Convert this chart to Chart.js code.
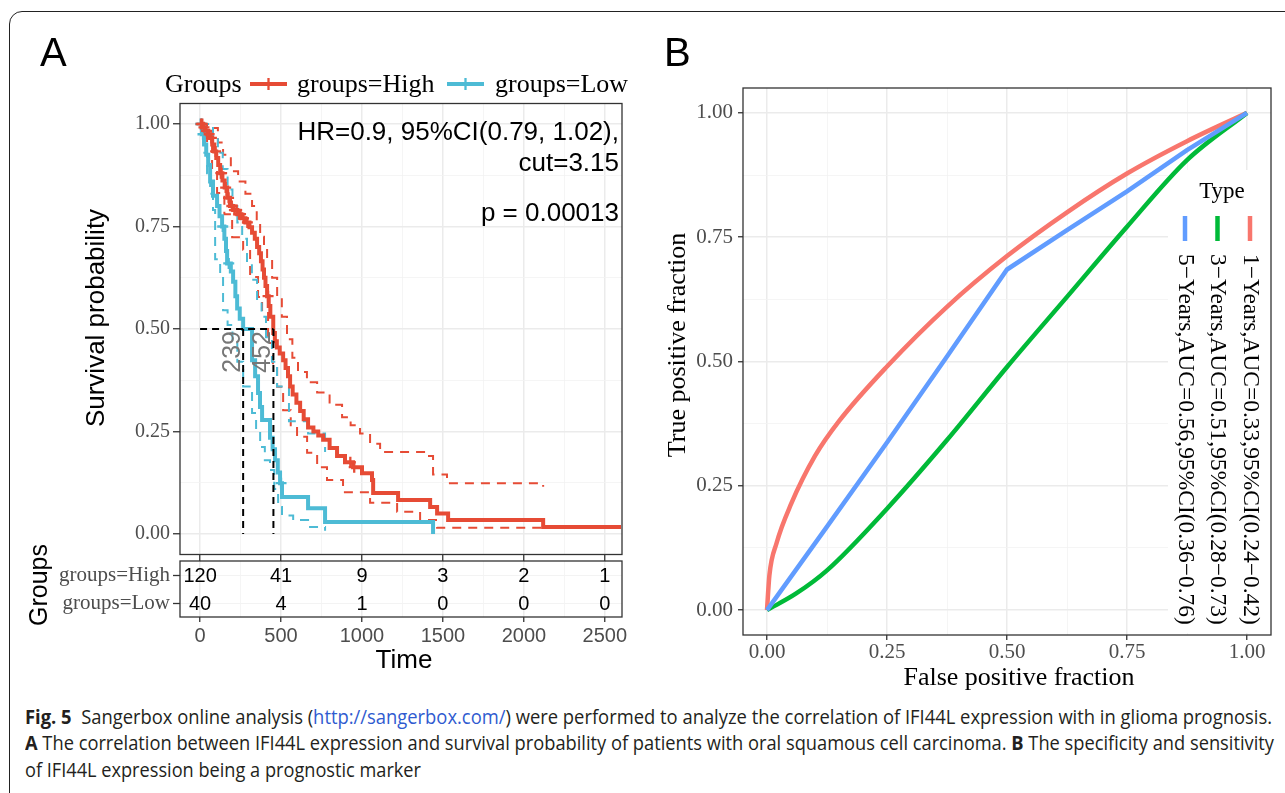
<!DOCTYPE html>
<html>
<head>
<meta charset="utf-8">
<script src="https://cdn.jsdelivr.net/npm/chart.js@4.4.1/dist/chart.umd.min.js"></script>
<style>
  body { margin: 0; width: 1285px; height: 793px; background: #fff; overflow: hidden; position: relative; }
  .frame { position: absolute; left: 9px; top: 11px; width: 1320px; height: 820px; border: 1.4px solid #222; border-radius: 13px; box-sizing: border-box; }
  canvas { position: absolute; }
  #kmChart { left: 0; top: 0; }
  #riskChart { left: 0; top: 530px; }
  #rocChart { left: 640px; top: 0; }
  .cap { position: absolute; left: 25px; white-space: nowrap; font-family: "Open Sans", "Liberation Sans", sans-serif; font-size: 20px; line-height: 26px; color: #231f20; transform-origin: 0 50%; }
  .cap b { font-weight: 700; }
  .cap .lnk { color: #2f5bd0; }
</style>
</head>
<body>
<div class="frame"></div>
<canvas id="kmChart" width="640" height="570"></canvas>
<canvas id="riskChart" width="640" height="150"></canvas>
<canvas id="rocChart" width="645" height="700"></canvas>
<div class="cap" data-w="1247" style="top:704px"><b>Fig. 5</b>&nbsp; Sangerbox online analysis (<span class="lnk">http://sangerbox.com/</span>) were performed to analyze the correlation of IFI44L expression with in glioma prognosis.</div>
<div class="cap" data-w="1249" style="top:730px"><b>A</b> The correlation between IFI44L expression and survival probability of patients with oral squamous cell carcinoma. <b>B</b> The specificity and sensitivity</div>
<div class="cap" data-w="396" style="top:757px">of IFI44L expression being a prognostic marker</div>
<script>
// ---- panel A: Kaplan-Meier ----
const kmTimeTicks = [0, 500, 1000, 1500, 2000, 2500];
const kmTimeMinor = [250, 750, 1250, 1750, 2250];
const kmSurvTicks = [0, 0.25, 0.5, 0.75, 1];
const kmSurvMinor = [0.125, 0.375, 0.625, 0.875];

const highTime = [0, 15, 30, 48, 62, 75, 88, 100, 112, 124, 138, 152, 168, 185, 205, 230, 255, 280, 305, 321,
  338, 352, 365, 376, 386, 395, 404, 414, 424, 434, 452, 462, 474, 492, 513, 528, 543, 556, 572, 595,
  618, 640, 667, 700, 730, 760, 800, 846, 895, 945, 1000, 1062, 1069, 1223, 1421, 1464, 1532, 2119, 2600];
const highSurv = [1, 0.992, 0.983, 0.975, 0.966, 0.95, 0.933, 0.917, 0.9, 0.88, 0.862, 0.845, 0.82, 0.8, 0.79, 0.78, 0.77, 0.76, 0.748, 0.735,
  0.72, 0.70, 0.685, 0.665, 0.645, 0.625, 0.605, 0.58, 0.556, 0.53, 0.49, 0.47, 0.455, 0.44, 0.424, 0.405, 0.385, 0.36, 0.34, 0.32,
  0.30, 0.28, 0.26, 0.25, 0.24, 0.23, 0.21, 0.19, 0.175, 0.163, 0.148, 0.132, 0.10, 0.083, 0.066, 0.05, 0.034, 0.017, 0.017];
const highUpperTime = [0, 80, 110, 142, 190, 235, 280, 321, 350, 371, 395, 414, 445, 476, 505, 537, 570, 605, 660, 723,
  800, 877, 930, 988, 1050, 1112, 1401, 1439, 1525, 2119];
const highUpper = [1, 0.99, 0.955, 0.925, 0.885, 0.86, 0.83, 0.80, 0.76, 0.725, 0.70, 0.67, 0.625, 0.58, 0.53, 0.475, 0.43, 0.395, 0.37, 0.345,
  0.315, 0.285, 0.265, 0.245, 0.22, 0.2, 0.19, 0.145, 0.124, 0.115];
const highLowerTime = [0, 43, 74, 105, 150, 198, 266, 309, 358, 383, 420, 450, 476, 513, 560, 599, 661, 723, 784, 883,
  1050, 1217, 1359, 1464, 2119];
const highLower = [1, 0.954, 0.888, 0.832, 0.78, 0.724, 0.693, 0.627, 0.578, 0.539, 0.466, 0.41, 0.359, 0.302, 0.265, 0.237, 0.198, 0.163, 0.132, 0.102,
  0.076, 0.054, 0.034, 0.015, 0.005];

const lowTime = [0, 12, 25, 38, 50, 62, 80, 105, 120, 136, 150, 160, 167, 190, 204, 218, 229, 245, 266, 321,
  340, 358, 370, 383, 432, 448, 463, 480, 494, 506, 667, 772, 1439];
const lowSurv = [1, 0.975, 0.95, 0.925, 0.9, 0.86, 0.825, 0.80, 0.775, 0.75, 0.72, 0.69, 0.66, 0.64, 0.615, 0.58, 0.55, 0.525, 0.5, 0.424,
  0.385, 0.344, 0.31, 0.278, 0.235, 0.207, 0.18, 0.15, 0.124, 0.09, 0.063, 0.029, 0];
const lowUpperTime = [0, 50, 80, 110, 140, 170, 200, 230, 260, 290, 320, 352, 380, 407, 444, 475, 549, 667, 772];
const lowUpper = [1, 1, 0.97, 0.93, 0.89, 0.84, 0.8, 0.76, 0.72, 0.66, 0.62, 0.57, 0.53, 0.48, 0.42, 0.36, 0.275, 0.245, 0.2];
const lowLowerTime = [0, 20, 43, 62, 80, 93, 124, 142, 170, 200, 230, 266, 321, 346, 371, 400, 432, 458, 482, 506, 575, 667, 772];
const lowLower = [1, 0.93, 0.88, 0.83, 0.79, 0.67, 0.627, 0.546, 0.51, 0.47, 0.42, 0.36, 0.295, 0.25, 0.212, 0.18, 0.156, 0.11, 0.066, 0.045, 0.034, 0.017, 0.008];

const highCensorTime = [6, 14, 24, 40, 56, 70, 96, 128, 133, 158, 176, 196, 212, 226, 240, 250, 268, 292, 420, 928, 952];
const lowCensorTime = [4, 10, 18, 140, 177, 500];

const medianLineTimes = [266, 453];
const medianLabels = ['239', '452'];

const riskGroups = ['groups=High', 'groups=Low'];
const riskHigh = [120, 41, 9, 3, 2, 1];
const riskLow = [40, 4, 1, 0, 0, 0];

// ---- panel B: ROC ----
const rocTicks = [0, 0.25, 0.5, 0.75, 1];
const rocMinor = [0.125, 0.375, 0.625, 0.875];
const rocLabels = ['1\u2212Years,AUC=0.33,95%CI(0.24\u22120.42)', '3\u2212Years,AUC=0.51,95%CI(0.28\u22120.73)', '5\u2212Years,AUC=0.56,95%CI(0.36\u22120.76)'];
const roc1X = [0, 0.005, 0.02, 0.05, 0.1, 0.15, 0.25, 0.375, 0.5, 0.625, 0.75, 0.875, 1];
const roc1Y = [0, 0.07, 0.135, 0.213, 0.31, 0.38, 0.49, 0.61, 0.712, 0.80, 0.878, 0.943, 1];
const roc3X = [0, 0.06, 0.125, 0.25, 0.375, 0.5, 0.625, 0.75, 0.875, 1];
const roc3Y = [0, 0.033, 0.08, 0.204, 0.342, 0.489, 0.63, 0.771, 0.905, 1];
const roc5X = [0, 0.125, 0.25, 0.375, 0.5, 0.625, 0.75, 0.875, 1];
const roc5Y = [0, 0.168, 0.337, 0.51, 0.685, 0.764, 0.842, 0.925, 1];

const RED = '#E64B35', BLUE = '#4DBBD5';
const rocColors = ['#F8766D', '#00BA38', '#619CFF'];
const SERIF = '"Liberation Serif", "Times New Roman", serif';
const SANS = '"Liberation Sans", Arial, sans-serif';

Chart.defaults.font.family = SANS;

const pts = (xs, ys) => xs.map((x, i) => ({ x, y: ys[i] }));

function survAt(times, surv, t) {
  let s = surv[0];
  for (let i = 0; i < times.length; i++) if (times[i] <= t) s = surv[i];
  return s;
}

// theme_bw style axis: major + minor grid, dark ticks only on majors
function bwAxis(pos, min, max, major, minor, size, tickLength, padding, font, fmt) {
  const isMajor = v => major.includes(v);
  return {
    type: 'linear', position: pos, min, max,
    afterBuildTicks: s => { s.ticks = major.concat(minor).sort((a, b) => a - b).map(v => ({ value: v })); },
    afterFit: s => { if (pos === 'left') s.width = size; else s.height = size; },
    ticks: { autoSkip: false, maxRotation: 0, padding, font, color: '#4D4D4D',
      callback: v => (fmt && isMajor(v)) ? fmt(v) : '' },
    grid: {
      color: c => isMajor(c.tick.value) ? '#EBEBEB' : '#F3F3F3',
      lineWidth: c => isMajor(c.tick.value) ? 1.5 : 0.8,
      tickColor: c => isMajor(c.tick.value) ? '#333333' : 'rgba(0,0,0,0)',
      tickWidth: 1.3, tickLength,
    },
    border: { display: false },
  };
}

const stepLine = (xs, ys, color, width, dash, order) => ({
  data: pts(xs, ys), borderColor: color, borderWidth: width, borderDash: dash,
  stepped: true, pointRadius: 0, fill: false, order,
});
const guide = (xs, ys) => ({
  data: pts(xs, ys), borderColor: '#000', borderWidth: 2, borderDash: [7, 5], pointRadius: 0, fill: false, order: 0,
});
const censor = (times, curveT, curveS, color) => ({
  type: 'scatter', data: times.map(t => ({ x: t, y: survAt(curveT, curveS, t) })),
  pointStyle: 'cross', pointRadius: 5.5, pointBorderWidth: 2.3, borderColor: color, showLine: false, order: 1,
});

function text(ctx, str, x, y, font, color, align, base, rot) {
  ctx.save();
  ctx.translate(x, y);
  if (rot) ctx.rotate(rot);
  ctx.font = font; ctx.fillStyle = color;
  ctx.textAlign = align; ctx.textBaseline = base;
  ctx.fillText(str, 0, 0);
  ctx.restore();
}

const kmDecor = {
  id: 'kmDecor',
  afterDraw(chart) {
    const { ctx, chartArea: a, scales: { x, y } } = chart;
    ctx.save();
    ctx.strokeStyle = '#333'; ctx.lineWidth = 1.3;
    ctx.strokeRect(a.left, a.top, a.width, a.height);
    medianLineTimes.forEach((t, i) => {
      text(ctx, medianLabels[i], x.getPixelForValue(t) - 3, y.getPixelForValue(0.5) + 2,
        `25px ${SANS}`, '#777', 'right', 'alphabetic', -Math.PI / 2);
    });
    const f = `26px ${SANS}`;
    text(ctx, 'HR=0.9, 95%CI(0.79, 1.02),', a.right - 3, 140, f, '#000', 'right', 'alphabetic');
    text(ctx, 'cut=3.15', a.right - 3, 171, f, '#000', 'right', 'alphabetic');
    text(ctx, 'p = 0.00013', a.right - 3, 221, f, '#000', 'right', 'alphabetic');
    text(ctx, 'Survival probability', 97, 318, `26px ${SANS}`, '#000', 'center', 'middle', -Math.PI / 2);
    text(ctx, 'A', 40, 66, `40px ${SANS}`, '#000', 'left', 'alphabetic');
    // legend on top
    const sf = `26px ${SERIF}`;
    text(ctx, 'Groups', 165, 92, sf, '#000', 'left', 'alphabetic');
    [[250, RED, 'groups=High', 297], [447, BLUE, 'groups=Low', 495]].forEach(([lx, col, lab, tx]) => {
      ctx.strokeStyle = col; ctx.lineWidth = 4;
      ctx.beginPath(); ctx.moveTo(lx, 84); ctx.lineTo(lx + 37, 84); ctx.stroke();
      ctx.lineWidth = 2.3;
      ctx.beginPath(); ctx.moveTo(lx + 18.5, 78); ctx.lineTo(lx + 18.5, 90); ctx.stroke();
      text(ctx, lab, tx, 92, sf, '#000', 'left', 'alphabetic');
    });
    ctx.restore();
  }
};

new Chart(document.getElementById('kmChart'), {
  type: 'line',
  data: { datasets: [
    guide([0, medianLineTimes[1]], [0.5, 0.5]),
    guide([medianLineTimes[0], medianLineTimes[0]], [0.5, 0]),
    guide([medianLineTimes[1], medianLineTimes[1]], [0.5, 0]),
    censor(highCensorTime, highTime, highSurv, RED),
    censor(lowCensorTime, lowTime, lowSurv, BLUE),
    stepLine(lowTime, lowSurv, BLUE, 4, [], 2),
    stepLine(highTime, highSurv, RED, 4, [], 3),
    stepLine(lowUpperTime, lowUpper, BLUE, 2, [9, 7], 4),
    stepLine(lowLowerTime, lowLower, BLUE, 2, [9, 7], 5),
    stepLine(highUpperTime, highUpper, RED, 2, [9, 7], 6),
    stepLine(highLowerTime, highLower, RED, 2, [9, 7], 7),
  ] },
  options: {
    responsive: false, animation: false, events: [],
    layout: { padding: { top: 103.5, right: 18, bottom: 0, left: 0 } },
    plugins: { legend: { display: false }, tooltip: { enabled: false } },
    scales: {
      x: bwAxis('bottom', -124, 2606, kmTimeTicks, kmTimeMinor, 15.5, 7, 0, { size: 1 }, null),
      y: bwAxis('left', -0.05, 1.05, kmSurvTicks, kmSurvMinor, 180, 7, 3,
        { family: SERIF, size: 20 }, v => v.toFixed(2)),
    },
  },
  plugins: [kmDecor],
});

// ---- risk table (canvas top is page y 530) ----
const riskDecor = {
  id: 'riskDecor',
  afterDraw(chart) {
    const { ctx, chartArea: a } = chart;
    ctx.save();
    chart.data.datasets.forEach((ds, i) => {
      chart.getDatasetMeta(i).data.forEach((el, j) => {
        text(ctx, String(ds.data[j].n), el.x, el.y + 1, `20px ${SANS}`, '#000', 'center', 'middle');
      });
    });
    ctx.strokeStyle = '#333'; ctx.lineWidth = 1.3;
    ctx.strokeRect(a.left, a.top, a.width, a.height);
    text(ctx, 'Groups', 40, 55, `25px ${SANS}`, '#000', 'center', 'middle', -Math.PI / 2);
    text(ctx, 'Time', 404, 131, `26px ${SANS}`, '#000', 'center', 'middle');
    ctx.restore();
  }
};

const riskX = bwAxis('bottom', -124, 2606, kmTimeTicks, kmTimeMinor, 63, 5, 2,
  { family: SANS, size: 20 }, v => String(v));

new Chart(document.getElementById('riskChart'), {
  type: 'scatter',
  data: { datasets: [
    { data: kmTimeTicks.map((t, i) => ({ x: t, y: riskGroups[0], n: riskHigh[i] })), pointRadius: 0 },
    { data: kmTimeTicks.map((t, i) => ({ x: t, y: riskGroups[1], n: riskLow[i] })), pointRadius: 0 },
  ] },
  options: {
    responsive: false, animation: false, events: [],
    layout: { padding: { top: 31, right: 18, bottom: 0, left: 0 } },
    plugins: { legend: { display: false }, tooltip: { enabled: false } },
    scales: {
      x: riskX,
      y: {
        type: 'category', labels: riskGroups, offset: true,
        afterFit: s => { s.width = 180; },
        ticks: { autoSkip: false, font: { family: SERIF, size: 21 }, color: '#4D4D4D', padding: 3 },
        grid: { color: '#F3F3F3', lineWidth: 1, tickColor: '#333333', tickWidth: 1.3, tickLength: 7 },
        border: { display: false },
      },
    },
  },
  plugins: [riskDecor],
});

// ---- panel B ----
const OX = 640;
const rocDecor = {
  id: 'rocDecor',
  beforeDatasetsDraw(chart) {
    // legend box inside the panel hides the grid, curves pass over it
    const { ctx, chartArea: a } = chart;
    ctx.save();
    ctx.fillStyle = '#fff';
    ctx.fillRect(1168 - OX, 170, a.right - (1168 - OX), 633 - 170);
    ctx.restore();
  },
  afterDraw(chart) {
    const { ctx, chartArea: a } = chart;
    ctx.save();
    text(ctx, 'Type', 1222 - OX, 198, `23px ${SERIF}`, '#000', 'center', 'alphabetic');
    rocLabels.forEach((lab, i) => {
      const cx = 1250 - 32.5 * i - OX;
      ctx.strokeStyle = rocColors[i]; ctx.lineWidth = 4.5;
      ctx.beginPath(); ctx.moveTo(cx, 216); ctx.lineTo(cx, 241); ctx.stroke();
      text(ctx, lab, cx, 254, `23.5px ${SERIF}`, '#000', 'left', 'middle', Math.PI / 2);
    });
    ctx.strokeStyle = '#333'; ctx.lineWidth = 1.3;
    ctx.strokeRect(a.left, a.top, a.width, a.height);
    text(ctx, 'True positive fraction', 678 - OX, 345, `26px ${SERIF}`, '#000', 'center', 'middle', -Math.PI / 2);
    text(ctx, 'False positive fraction', 1019 - OX, 678, `26px ${SERIF}`, '#000', 'center', 'middle');
    text(ctx, 'B', 664 - OX, 66, `40px ${SANS}`, '#000', 'left', 'alphabetic');
    ctx.restore();
  }
};

const rocLine = (xs, ys, color, smooth, order) => ({
  data: pts(xs, ys), borderColor: color, borderWidth: 4.5, pointRadius: 0, fill: false, order,
  cubicInterpolationMode: smooth ? 'monotone' : 'default', tension: 0,
});

new Chart(document.getElementById('rocChart'), {
  type: 'line',
  data: { datasets: [
    rocLine(roc5X, roc5Y, rocColors[2], false, 0),
    rocLine(roc3X, roc3Y, rocColors[1], true, 1),
    rocLine(roc1X, roc1Y, rocColors[0], true, 2),
  ] },
  options: {
    responsive: false, animation: false, events: [],
    layout: { padding: { top: 88, right: 14, bottom: 0, left: 0 } },
    plugins: { legend: { display: false }, tooltip: { enabled: false } },
    scales: {
      x: bwAxis('bottom', -0.05, 1.05, rocTicks, rocMinor, 65, 5, 0, { family: SERIF, size: 21 }, v => v.toFixed(2)),
      y: bwAxis('left', -0.05, 1.05, rocTicks, rocMinor, 103, 5, 5, { family: SERIF, size: 21 }, v => v.toFixed(2)),
    },
  },
  plugins: [rocDecor],
});

// caption is set in a condensed face: squeeze each line to its measured width
function fitCaption() {
  document.querySelectorAll('.cap').forEach(el => {
    el.style.transform = 'none';
    const w = el.getBoundingClientRect().width;
    el.style.transform = `scaleX(${(+el.dataset.w / w).toFixed(4)})`;
  });
}
fitCaption();
if (document.fonts) document.fonts.ready.then(fitCaption);
</script>
</body>
</html>
